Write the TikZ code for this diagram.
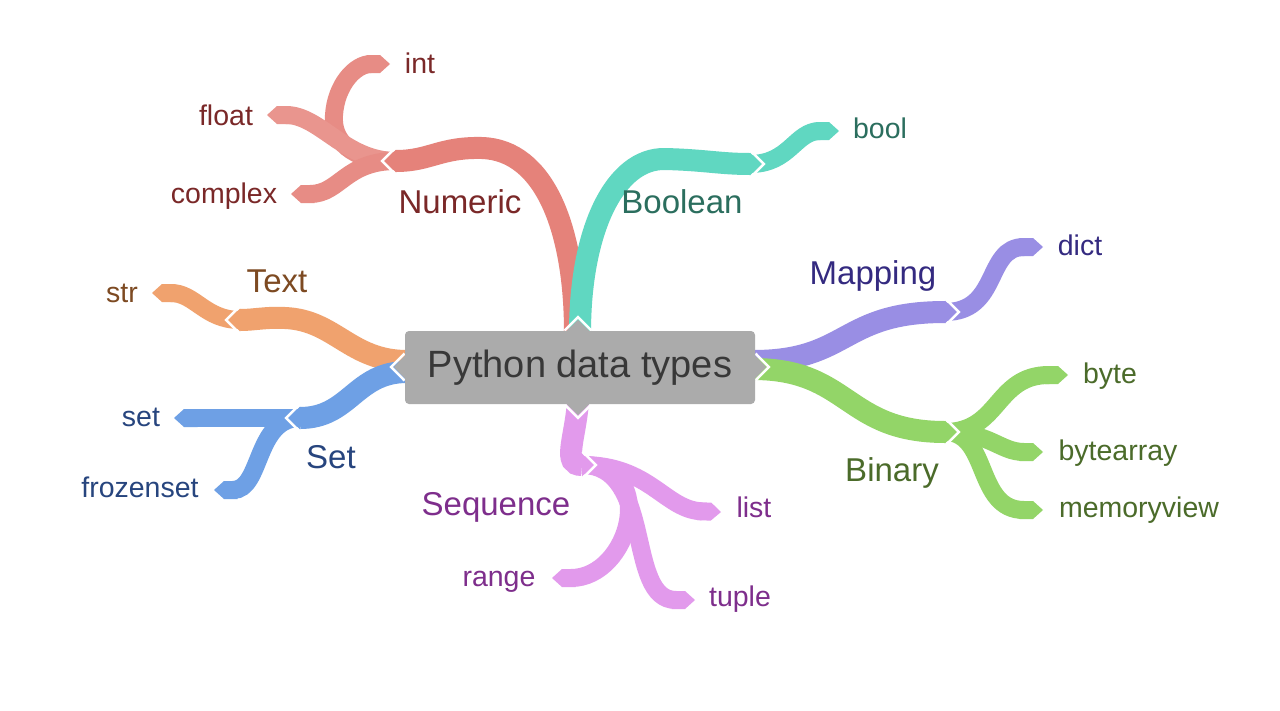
\documentclass[tikz,border=0pt]{standalone}
\usepackage{fontspec}
\setmainfont{Liberation Sans}
\usetikzlibrary{arrows.meta,calc}
\definecolor{numC}{HTML}{E5827A}\definecolor{numT}{HTML}{7A2828}
\definecolor{boolC}{HTML}{60D7C1}\definecolor{boolT}{HTML}{2B6E5E}
\definecolor{textC}{HTML}{F0A26E}\definecolor{textT}{HTML}{7D4A22}
\definecolor{setC}{HTML}{6EA0E5}\definecolor{setT}{HTML}{27457E}
\definecolor{mapC}{HTML}{998EE4}\definecolor{mapT}{HTML}{342A80}
\definecolor{binC}{HTML}{93D568}\definecolor{binT}{HTML}{4B6B2A}
\definecolor{seqC}{HTML}{E29AEC}\definecolor{seqT}{HTML}{7E2E8C}
\definecolor{boxC}{HTML}{ABABAB}\definecolor{boxT}{HTML}{383838}
\newcommand\mmtip[3]{%
  \begin{scope}[shift={(#1)},rotate=#3]
    \fill[#2] (0,-11.5) -- (11,0) -- (0,11.5) -- cycle;
    \draw[white,line width=2.5pt] (0.5,-13.5) -- (13.8,0) -- (0.5,13.5);
  \end{scope}}
\tikzset{
  rib/.style={line width=22pt},
  sub/.style={line width=18pt,-{Triangle Cap[length=10pt]}},
  cat/.style={font=\fontsize{33}{33}\selectfont,anchor=base},
  leaf/.style={font=\fontsize{28.5}{28.5}\selectfont,anchor=base},
  box/.style={fill=boxC,rounded corners=4pt,minimum width=350pt,minimum height=73pt,
    text=boxT,font=\fontsize{38}{38}\selectfont,inner sep=0pt},
}
\begin{document}
\begin{tikzpicture}[x=1pt,y=-1pt]
\fill[white] (0,0) rectangle (1280,710);
\useasboundingbox (0,0) rectangle (1280,710);
% coordinates
\coordinate (numS) at (575,333); \coordinate (numJ) at (396,161);
\coordinate (boolS) at (580,333); \coordinate (boolJ) at (750,164);
\coordinate (textS) at (407,361); \coordinate (textJ) at (240,320);
\coordinate (setS) at (407,372); \coordinate (setJ) at (300,418);
\coordinate (mapS) at (753,361); \coordinate (mapJ) at (945,312);
\coordinate (binS) at (753,369); \coordinate (binJ) at (945,432);
\coordinate (seqS) at (578,402); \coordinate (seqJ) at (582,465);
\coordinate (intE) at (390,64); \coordinate (floatE) at (267,115);
\coordinate (complexE) at (291,194); \coordinate (boolE) at (839,131);
\coordinate (strE) at (152,293); \coordinate (setE) at (174,418);
\coordinate (frozenE) at (214,490); \coordinate (dictE) at (1043,247);
\coordinate (byteE) at (1068,375); \coordinate (byteaE) at (1043,452);
\coordinate (memE) at (1043,510); \coordinate (listE) at (721,512);
\coordinate (rangeE) at (552,578); \coordinate (tupleE) at (695,600);
% child ribbons
\draw[sub,numC!92!white] (numJ) .. controls (350,161) and (332,140) .. (334,115) .. controls (336,85) and (355,64) .. (intE);
\draw[sub,numC!85!white] (numJ) .. controls (345,161) and (320,115) .. (floatE);
\draw[sub,numC!92!white] (numJ) .. controls (345,161) and (340,194) .. (complexE);
\draw[sub,boolC] (boolJ) .. controls (790,164) and (795,131) .. (boolE);
\draw[sub,textC] (textJ) .. controls (205,320) and (195,293) .. (strE);
\draw[sub,setC] (setJ) -- (setE);
\draw[sub,setC] (setJ) .. controls (255,418) and (262,490) .. (frozenE);
\draw[sub,mapC] (mapJ) .. controls (1000,312) and (985,247) .. (dictE);
\draw[sub,binC] (binJ) .. controls (1000,432) and (995,375) .. (byteE);
\draw[sub,binC] (binJ) .. controls (990,432) and (1000,452) .. (byteaE);
\draw[sub,binC] (binJ) .. controls (990,432) and (975,510) .. (memE);
\draw[sub,seqC] (seqJ) .. controls (650,465) and (665,510) .. (listE);
\draw[sub,seqC] (seqJ) .. controls (660,465) and (630,578) .. (rangeE);
\draw[sub,seqC] (seqJ) .. controls (655,465) and (625,600) .. (tupleE);
% category ribbons
\draw[rib,numC] (numS) .. controls (575,230) and (545,150) .. (482,148) .. controls (440,147) and (430,161) .. (numJ);
\draw[rib,boolC] (boolS) .. controls (580,230) and (615,158) .. (665,159) .. controls (705,160) and (720,164) .. (boolJ);
\draw[rib,textC] (textS) .. controls (350,361) and (335,320) .. (285,318) .. controls (265,317) and (255,320) .. (textJ);
\draw[rib,setC] (setS) .. controls (355,372) and (350,418) .. (setJ);
\draw[rib,mapC] (mapS) .. controls (850,361) and (840,312) .. (mapJ);
\draw[rib,binC] (binS) .. controls (850,369) and (845,432) .. (binJ);
\draw[rib,seqC] (seqS) .. controls (575,440) and (562,465) .. (seqJ);
% tips
\mmtip{numJ}{numC}{180}
\mmtip{boolJ}{boolC}{0}
\mmtip{textJ}{textC}{180}
\mmtip{setJ}{setC}{180}
\mmtip{mapJ}{mapC}{0}
\mmtip{binJ}{binC}{0}
\mmtip{seqJ}{seqC}{0}
% box tips
\coordinate (bT) at (578,331); \coordinate (bB) at (578,404);
\coordinate (bL) at (405,367); \coordinate (bR) at (755,367);
\mmtip{bT}{boxC}{90}
\mmtip{bB}{boxC}{-90}
\mmtip{bL}{boxC}{180}
\mmtip{bR}{boxC}{0}
\node[box] (center) at (580,367.5) {Python data types};
% category labels
\node[cat,text=numT] (numeric) at (460,213) {Numeric};
\node[cat,text=boolT] (boolean) at (682,213) {Boolean};
\node[cat,text=textT] (text) at (277,292) {Text};
\node[cat,text=setT] (set) at (331,468) {Set};
\node[cat,text=mapT] (mapping) at (873,284) {Mapping};
\node[cat,text=binT] (binary) at (892,481) {Binary};
\node[cat,text=seqT] (sequence) at (496,515) {Sequence};
% leaves
\node[leaf,text=numT] (int) at (420,73) {int};
\node[leaf,text=numT] (float) at (226,125) {float};
\node[leaf,text=numT] (complex) at (224,203) {complex};
\node[leaf,text=boolT] (bool) at (880,138) {bool};
\node[leaf,text=textT] (str) at (122,302) {str};
\node[leaf,text=setT] (setl) at (141,426) {set};
\node[leaf,text=setT] (frozenset) at (140,497) {frozenset};
\node[leaf,text=mapT] (dict) at (1080,255) {dict};
\node[leaf,text=binT] (byte) at (1110,383) {byte};
\node[leaf,text=binT] (bytearray) at (1118,460) {bytearray};
\node[leaf,text=binT] (memoryview) at (1139,517) {memoryview};
\node[leaf,text=seqT] (list) at (754,517) {list};
\node[leaf,text=seqT] (range) at (499,586) {range};
\node[leaf,text=seqT] (tuple) at (740,606) {tuple};
\end{tikzpicture}
\end{document}
